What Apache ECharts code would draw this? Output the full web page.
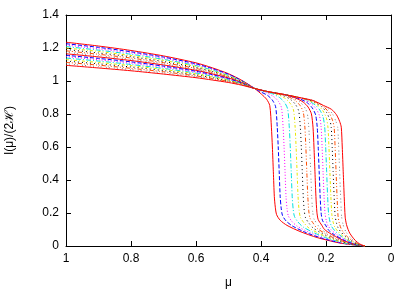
<!DOCTYPE html>
<html><head><meta charset="utf-8">
<script src="https://cdn.jsdelivr.net/npm/echarts@6/dist/echarts.min.js"></script>
<style>html,body{margin:0;padding:0;background:#fff}#c{width:415px;height:290px}</style>
</head><body><div id="c"></div>
<script>
// Axis ticks
const xTicks = [1, 0.8, 0.6, 0.4, 0.2, 0];
const yTicks = [0, 0.2, 0.4, 0.6, 0.8, 1, 1.2, 1.4];
const xLabel = 'μ';
const yLabel = 'I(μ)/(2ℋ)';

// Curves: [mu, I(mu)/(2H)] pairs
const curve00 = [[1,1.235],[0.9,1.212],[0.8,1.185],[0.7,1.152],[0.6,1.110],[0.55,1.080],[0.5,1.044],[0.46,1.005],[0.42,0.955],[0.398,0.919],[0.383,0.890],[0.373,0.851],[0.368,0.72],[0.365,0.6],[0.362,0.45],[0.359,0.3],[0.356,0.235],[0.352,0.190],[0.341,0.156],[0.320,0.125],[0.280,0.088],[0.227,0.051],[0.160,0.019],[0.107,0.005],[0.08,0]];
const curve01 = [[1,1.226],[0.9,1.204],[0.8,1.177],[0.7,1.145],[0.6,1.104],[0.55,1.075],[0.5,1.041],[0.46,1.003],[0.42,0.955],[0.405,0.938],[0.380,0.913],[0.365,0.884],[0.355,0.844],[0.350,0.72],[0.347,0.6],[0.344,0.45],[0.341,0.3],[0.338,0.231],[0.334,0.186],[0.323,0.152],[0.304,0.122],[0.267,0.086],[0.217,0.050],[0.155,0.019],[0.105,0.005],[0.08,0]];
const curve02 = [[1,1.218],[0.9,1.195],[0.8,1.170],[0.7,1.138],[0.6,1.099],[0.55,1.071],[0.5,1.037],[0.46,1.001],[0.42,0.955],[0.387,0.932],[0.362,0.907],[0.347,0.878],[0.337,0.838],[0.332,0.72],[0.329,0.6],[0.326,0.45],[0.323,0.3],[0.320,0.228],[0.316,0.183],[0.305,0.149],[0.288,0.119],[0.253,0.084],[0.207,0.049],[0.149,0.018],[0.103,0.005],[0.08,0]];
const curve03 = [[1,1.209],[0.9,1.187],[0.8,1.162],[0.7,1.131],[0.6,1.093],[0.55,1.066],[0.5,1.034],[0.46,0.999],[0.42,0.955],[0.368,0.925],[0.343,0.900],[0.328,0.871],[0.318,0.831],[0.313,0.72],[0.310,0.6],[0.307,0.45],[0.304,0.3],[0.301,0.224],[0.297,0.179],[0.286,0.145],[0.271,0.116],[0.239,0.082],[0.197,0.048],[0.144,0.018],[0.101,0.004],[0.08,0]];
const curve04 = [[1,1.200],[0.9,1.179],[0.8,1.154],[0.7,1.125],[0.6,1.088],[0.55,1.062],[0.5,1.031],[0.46,0.998],[0.42,0.955],[0.38,0.936],[0.350,0.919],[0.325,0.894],[0.310,0.864],[0.300,0.824],[0.295,0.72],[0.292,0.6],[0.289,0.45],[0.286,0.3],[0.283,0.220],[0.279,0.175],[0.268,0.141],[0.255,0.113],[0.226,0.080],[0.187,0.046],[0.138,0.017],[0.099,0.004],[0.08,0]];
const curve05 = [[1,1.191],[0.9,1.170],[0.8,1.147],[0.7,1.118],[0.6,1.082],[0.55,1.057],[0.5,1.027],[0.46,0.996],[0.42,0.955],[0.38,0.936],[0.334,0.913],[0.309,0.888],[0.294,0.858],[0.284,0.818],[0.279,0.72],[0.276,0.6],[0.273,0.45],[0.270,0.3],[0.267,0.216],[0.263,0.171],[0.252,0.137],[0.240,0.110],[0.214,0.078],[0.178,0.045],[0.133,0.017],[0.098,0.004],[0.08,0]];
const curve06 = [[1,1.183],[0.9,1.162],[0.8,1.139],[0.7,1.111],[0.6,1.076],[0.55,1.052],[0.5,1.024],[0.46,0.994],[0.42,0.955],[0.38,0.936],[0.320,0.908],[0.295,0.882],[0.280,0.852],[0.270,0.812],[0.265,0.72],[0.262,0.6],[0.259,0.45],[0.256,0.3],[0.253,0.213],[0.249,0.168],[0.238,0.134],[0.228,0.108],[0.203,0.076],[0.170,0.044],[0.129,0.017],[0.096,0.004],[0.08,0]];
const curve07 = [[1,1.174],[0.9,1.154],[0.8,1.131],[0.7,1.104],[0.6,1.071],[0.55,1.048],[0.5,1.021],[0.46,0.992],[0.42,0.955],[0.38,0.936],[0.33,0.9185],[0.308,0.903],[0.283,0.877],[0.268,0.847],[0.258,0.807],[0.253,0.72],[0.250,0.6],[0.247,0.45],[0.244,0.3],[0.241,0.209],[0.237,0.164],[0.226,0.130],[0.217,0.105],[0.194,0.074],[0.164,0.043],[0.126,0.016],[0.095,0.004],[0.08,0]];
const curve08 = [[1,1.165],[0.9,1.146],[0.8,1.124],[0.7,1.097],[0.6,1.065],[0.55,1.043],[0.5,1.018],[0.46,0.990],[0.42,0.955],[0.38,0.936],[0.33,0.9185],[0.295,0.898],[0.270,0.872],[0.255,0.842],[0.245,0.801],[0.240,0.72],[0.237,0.6],[0.234,0.45],[0.231,0.3],[0.228,0.205],[0.224,0.160],[0.213,0.126],[0.205,0.101],[0.184,0.072],[0.156,0.042],[0.122,0.016],[0.094,0.004],[0.08,0]];
const curve09 = [[1,1.156],[0.9,1.137],[0.8,1.116],[0.7,1.090],[0.6,1.059],[0.55,1.038],[0.5,1.014],[0.46,0.988],[0.42,0.955],[0.38,0.936],[0.33,0.9185],[0.282,0.893],[0.257,0.867],[0.242,0.836],[0.232,0.795],[0.227,0.72],[0.224,0.6],[0.221,0.45],[0.218,0.3],[0.215,0.201],[0.211,0.156],[0.200,0.122],[0.193,0.098],[0.175,0.069],[0.149,0.040],[0.118,0.015],[0.093,0.004],[0.08,0]];
const curve10 = [[1,1.148],[0.9,1.129],[0.8,1.108],[0.7,1.083],[0.6,1.054],[0.55,1.034],[0.5,1.011],[0.46,0.986],[0.42,0.955],[0.38,0.936],[0.33,0.9185],[0.270,0.888],[0.245,0.861],[0.230,0.830],[0.220,0.789],[0.215,0.72],[0.212,0.6],[0.209,0.45],[0.206,0.3],[0.203,0.198],[0.199,0.153],[0.194,0.123],[0.183,0.096],[0.166,0.068],[0.143,0.039],[0.114,0.015],[0.091,0.004],[0.08,0]];
const curve11 = [[1,1.139],[0.9,1.121],[0.8,1.100],[0.7,1.076],[0.6,1.048],[0.55,1.029],[0.5,1.008],[0.46,0.984],[0.42,0.955],[0.38,0.936],[0.33,0.9185],[0.28,0.899],[0.259,0.884],[0.234,0.856],[0.219,0.824],[0.209,0.782],[0.204,0.72],[0.201,0.6],[0.198,0.45],[0.195,0.3],[0.192,0.194],[0.188,0.149],[0.183,0.119],[0.173,0.093],[0.157,0.065],[0.137,0.038],[0.111,0.014],[0.090,0.004],[0.08,0]];
const curve12 = [[1,1.130],[0.9,1.112],[0.8,1.093],[0.7,1.070],[0.6,1.043],[0.55,1.025],[0.5,1.004],[0.46,0.983],[0.42,0.955],[0.38,0.936],[0.33,0.9185],[0.28,0.899],[0.249,0.879],[0.224,0.851],[0.209,0.818],[0.199,0.776],[0.194,0.72],[0.191,0.6],[0.188,0.45],[0.185,0.3],[0.182,0.190],[0.178,0.145],[0.173,0.115],[0.164,0.090],[0.150,0.063],[0.131,0.037],[0.108,0.014],[0.089,0.003],[0.08,0]];
const curve13 = [[1,1.121],[0.9,1.104],[0.8,1.085],[0.7,1.063],[0.6,1.037],[0.55,1.020],[0.5,1.001],[0.46,0.981],[0.42,0.955],[0.38,0.936],[0.33,0.9185],[0.28,0.899],[0.239,0.875],[0.214,0.845],[0.199,0.812],[0.189,0.769],[0.184,0.72],[0.181,0.6],[0.178,0.45],[0.175,0.3],[0.172,0.186],[0.168,0.141],[0.163,0.111],[0.155,0.087],[0.142,0.061],[0.126,0.036],[0.105,0.013],[0.088,0.003],[0.08,0]];
const curve14 = [[1,1.113],[0.9,1.096],[0.8,1.077],[0.7,1.056],[0.6,1.031],[0.55,1.015],[0.5,0.998],[0.46,0.979],[0.42,0.955],[0.38,0.936],[0.33,0.9185],[0.28,0.899],[0.230,0.870],[0.205,0.840],[0.190,0.806],[0.180,0.762],[0.175,0.72],[0.172,0.6],[0.169,0.45],[0.166,0.3],[0.163,0.183],[0.159,0.138],[0.154,0.108],[0.147,0.084],[0.136,0.059],[0.121,0.035],[0.102,0.013],[0.087,0.003],[0.08,0]];
const curve15 = [[1,1.104],[0.9,1.087],[0.8,1.070],[0.7,1.049],[0.6,1.026],[0.55,1.011],[0.5,0.994],[0.46,0.977],[0.42,0.955],[0.38,0.936],[0.33,0.9185],[0.28,0.899],[0.24,0.882],[0.219,0.864],[0.194,0.833],[0.179,0.797],[0.169,0.753],[0.164,0.72],[0.161,0.6],[0.158,0.45],[0.155,0.3],[0.152,0.179],[0.148,0.134],[0.143,0.104],[0.137,0.081],[0.127,0.057],[0.115,0.033],[0.099,0.012],[0.086,0.003],[0.08,0]];
const curve16 = [[1,1.095],[0.9,1.079],[0.8,1.062],[0.7,1.042],[0.6,1.020],[0.55,1.006],[0.5,0.991],[0.46,0.975],[0.42,0.955],[0.38,0.936],[0.33,0.9185],[0.28,0.899],[0.24,0.882],[0.208,0.852],[0.183,0.828],[0.168,0.796],[0.158,0.755],[0.153,0.72],[0.150,0.6],[0.147,0.45],[0.144,0.3],[0.141,0.175],[0.137,0.130],[0.132,0.100],[0.127,0.078],[0.119,0.055],[0.109,0.032],[0.096,0.012],[0.085,0.003],[0.08,0]];

const curves = [curve00,curve01,curve02,curve03,curve04,curve05,curve06,curve07,curve08,curve09,curve10,curve11,curve12,curve13,curve14,curve15,curve16];

// styles (gnuplot-like cycle)
const lineColors = ['#ff0000','#0000ff','#ff00ff','#00e0e0','#e8e800','#000000','#ff4d00','#808080'];
const lineDashes = ['solid',[4,2],[1,2],[5,2,1,2],[3,2,1,2],[1,3],[4,2,1,2,1,2],[1,2,1,4]];

const font = 'Liberation Sans';
const chart = echarts.init(document.getElementById('c'), null, {renderer:'canvas'});
const axisCommon = {
  axisLine:{show:true,onZero:false,lineStyle:{color:'#000',width:1}},
  axisTick:{show:true,inside:true,length:5,lineStyle:{color:'#000',width:1}},
  splitLine:{show:false}
};
chart.setOption({
  animation:false,
  backgroundColor:'#fff',
  grid:{left:66,right:24,top:15,bottom:44,containLabel:false,outerBoundsMode:'none'},
  xAxis:[
    Object.assign({type:'value',min:xTicks[xTicks.length-1],max:xTicks[0],interval:0.2,inverse:true,position:'bottom',
      axisLabel:{color:'#000',fontFamily:font,fontSize:12,margin:7},
      name:xLabel,nameLocation:'middle',nameGap:31,nameTextStyle:{color:'#000',fontFamily:font,fontSize:12}},axisCommon),
    Object.assign({type:'value',min:0,max:1,interval:0.2,inverse:true,position:'top',axisLabel:{show:false}},axisCommon)
  ],
  yAxis:[
    Object.assign({type:'value',min:yTicks[0],max:yTicks[yTicks.length-1],interval:0.2,position:'left',
      axisLabel:{color:'#000',fontFamily:font,fontSize:12,margin:7},
      name:yLabel,nameLocation:'middle',nameGap:50,nameTextStyle:{color:'#000',fontFamily:font,fontSize:12}},axisCommon),
    Object.assign({type:'value',min:0,max:1.4,interval:0.2,position:'right',axisLabel:{show:false}},axisCommon)
  ],
  series: curves.map((c,i)=>({
    type:'line',data:c,showSymbol:false,smooth:0.25,
    lineStyle:{color:lineColors[i%8],width:1,type:lineDashes[i%8]},
    z: 2
  }))
});
</script></body></html>
